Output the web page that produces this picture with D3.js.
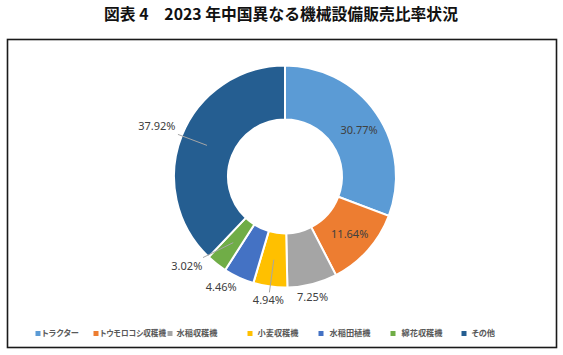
<!DOCTYPE html>
<html><head><meta charset="utf-8">
<script src="https://cdn.jsdelivr.net/npm/d3@7"></script>
<style>
html,body{margin:0;padding:0;background:#fff;}
svg{display:block;font-family:"Noto Sans CJK JP","Noto Sans",sans-serif;}
.lgt{font-feature-settings:"palt" 1;}
</style></head>
<body>
<svg id="c" width="563" height="355"></svg>
<script>
const title = "図表 4　2023 年中国異なる機械設備販売比率状況";
const categories = ["トラクター","トウモロコシ収穫機","水稲収穫機","小麦収穫機","水稲田植機","綿花収穫機","その他"];
const values = [30.77, 11.64, 7.25, 4.94, 4.46, 3.02, 37.92];
const labels = ["30.77%","11.64%","7.25%","4.94%","4.46%","3.02%","37.92%"];
const colors = ["#5B9BD5","#ED7D31","#A5A5A5","#FFC000","#4472C4","#70AD47","#255E91"];

const svg = d3.select("#c");
const cx = 285, cy = 176.5, rOuter = 111, rInner = 57;

svg.append("rect").attr("x",7.5).attr("y",39.5).attr("width",549).attr("height",308)
  .attr("fill","#fff").attr("stroke","#1a1a1a").attr("stroke-width",1.6);

svg.append("text").attr("x",281).attr("y",20).attr("text-anchor","middle")
  .attr("font-size",15.8).attr("font-weight","bold").attr("fill","#111").text(title);

const data = categories.map((c,i)=>({cat:c, value:values[i], label:labels[i], color:colors[i]}));
const pie = d3.pie().sort(null).value(d=>d.value);
const arcs = pie(data);
const arc = d3.arc().innerRadius(rInner).outerRadius(rOuter);
const g = svg.append("g").attr("transform",`translate(${cx},${cy})`);

g.selectAll("path").data(arcs).enter().append("path")
  .attr("d",arc).attr("fill",d=>d.data.color)
  .attr("stroke","#fff").attr("stroke-width",2);

const placement = [
  {mode:"in", dx:5, dy:1},{mode:"in", dx:2, dy:2},
  {mode:"out", r:124, dx:-3, dy:0, leader:false},
  {mode:"out", r:125, dx:0, dy:0, leader:true},
  {mode:"out", r:122, dx:-13, dy:0, leader:false},
  {mode:"out", r:122, dx:-23, dy:-7, leader:true},
  {mode:"out", r:138, dx:0, dy:1, leader:true}
];

arcs.forEach((a,i)=>{
  const p = placement[i];
  const c = arc.centroid(a);
  let x, y;
  if (p.mode === "in") { x = c[0] + p.dx; y = c[1] + p.dy; }
  else {
    const ang = (a.startAngle + a.endAngle)/2;
    x = Math.sin(ang)*p.r + p.dx;
    y = -Math.cos(ang)*p.r + p.dy;
    if (p.leader) {
      let lx = x, ly = y;
      const hw = 16, hh = 6;
      const vx = c[0]-x, vy = c[1]-y;
      if (Math.abs(vx)/hw > Math.abs(vy)/hh) { lx = x + Math.sign(vx)*(hw+3); ly = y + vy*(hw+3)/Math.abs(vx); ly = y + (ly-y)*0.3; }
      else { ly = y + Math.sign(vy)*(hh+2); lx = x + vx*(hh+2)/Math.abs(vy); }
      g.append("line").attr("x1",lx).attr("y1",ly).attr("x2",c[0]).attr("y2",c[1])
        .attr("stroke","#A6A6A6").attr("stroke-width",1);
    }
  }
  g.append("text").attr("x",x).attr("y",y).attr("dy","0.36em").attr("text-anchor","middle")
    .attr("font-size",11).attr("font-family","'Noto Sans','Open Sans',sans-serif")
    .attr("fill", "#404040").text(a.data.label);
});

// legend
const legendX = [38, 96, 170, 250, 321, 393, 464];
const legendTextGap = [1.5, 1.5, 4, 5, 6, 6, 5];
const lg = svg.append("g");
data.forEach((d,i)=>{
  const mx = legendX[i];
  const tx = mx+2.5+legendTextGap[i];
  lg.append("rect").attr("x",mx-2.5).attr("y",331).attr("width",5).attr("height",5).attr("fill",d.color);
  const t = lg.append("text").attr("class","lgt").attr("x",tx).attr("y",333.5).attr("dy","0.36em")
    .attr("font-size",8.2).attr("font-weight","bold").attr("fill","#595959").text(d.cat);
  if (i < data.length-1) {
    const avail = legendX[i+1] - 4 - tx;
    if (t.node().getComputedTextLength() > avail) {
      t.attr("textLength", avail).attr("lengthAdjust","spacingAndGlyphs");
    }
  }
});
</script>
</body></html>
